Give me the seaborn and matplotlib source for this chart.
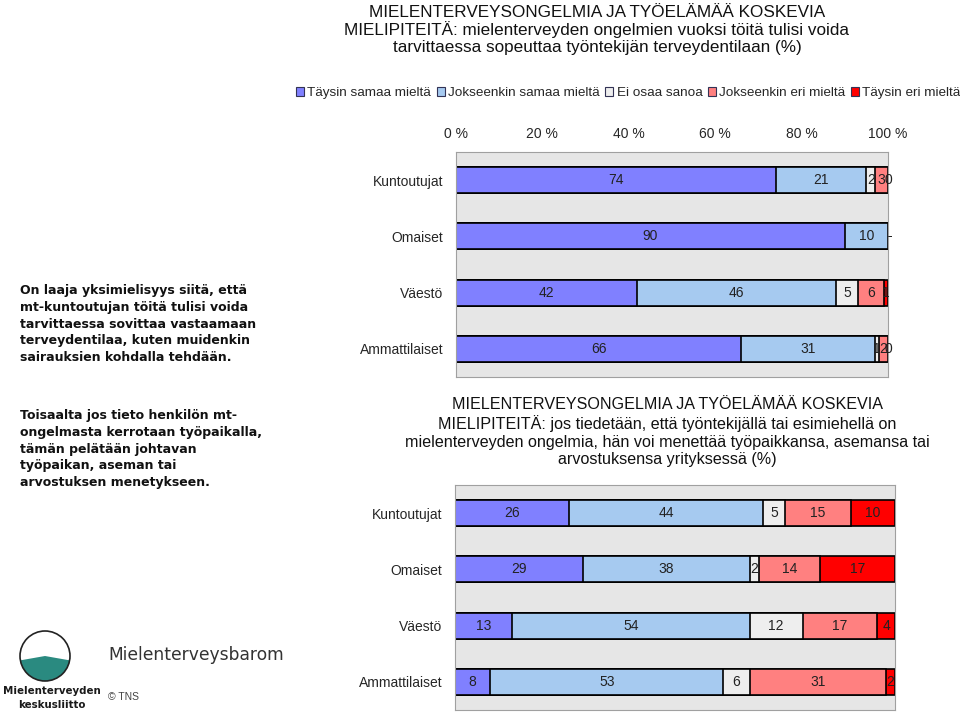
import numpy as np
import pandas as pd
import matplotlib.pyplot as plt
import seaborn as sns
from matplotlib.patches import Patch, Circle, Wedge

groups = ['Kuntoutujat', 'Omaiset', 'Väestö', 'Ammattilaiset']
answers = ['Täysin samaa mieltä', 'Jokseenkin samaa mieltä', 'Ei osaa sanoa',
           'Jokseenkin eri mieltä', 'Täysin eri mieltä']
colors = ['#8080ff', '#a6caf0', '#eeeeee', '#ff8080', '#ff0000']

# kuva 1: töiden sopeuttaminen terveydentilaan (%)
adapt_kuntoutujat = [74, 21, 2, 3, 0]
adapt_omaiset = [90, 10, np.nan, np.nan, np.nan]
adapt_vaesto = [42, 46, 5, 6, 1]
adapt_ammatti = [66, 31, 1, 2, 0]

# kuva 2: työpaikan / aseman menettäminen (%)
lose_kuntoutujat = [26, 44, 5, 15, 10]
lose_omaiset = [29, 38, 2, 14, 17]
lose_vaesto = [13, 54, 12, 17, 4]
lose_ammatti = [8, 53, 6, 31, 2]

title_top = ('MIELENTERVEYSONGELMIA JA TYÖELÄMÄÄ KOSKEVIA\n'
             'MIELIPITEITÄ: mielenterveyden ongelmien vuoksi töitä tulisi voida\n'
             'tarvittaessa sopeuttaa työntekijän terveydentilaan (%)')
title_bottom = ('MIELENTERVEYSONGELMIA JA TYÖELÄMÄÄ KOSKEVIA\n'
                'MIELIPITEITÄ: jos tiedetään, että työntekijällä tai esimiehellä on\n'
                'mielenterveyden ongelmia, hän voi menettää työpaikkansa, asemansa tai\n'
                'arvostuksensa yrityksessä (%)')
text_1 = ('On laaja yksimielisyys siitä, että\n'
          'mt-kuntoutujan töitä tulisi voida\n'
          'tarvittaessa sovittaa vastaamaan\n'
          'terveydentilaa, kuten muidenkin\n'
          'sairauksien kohdalla tehdään.')
text_2 = ('Toisaalta jos tieto henkilön mt-\n'
          'ongelmasta kerrotaan työpaikalla,\n'
          'tämän pelätään johtavan\n'
          'työpaikan, aseman tai\n'
          'arvostuksen menetykseen.')

sns.set_style('white')
plt.rcParams['font.family'] = ['Liberation Sans', 'DejaVu Sans']

W, H = 960, 713
fig = plt.figure(figsize=(W / 100, H / 100), dpi=100)


def px_axes(left, top, right, bottom):
    return fig.add_axes([left / W, 1 - bottom / H, (right - left) / W, (bottom - top) / H])


def stacked(ax, rows):
    df = pd.DataFrame(rows, index=groups, columns=answers)
    cum = df.fillna(0).cumsum(axis=1)
    # piirretään pisin kertymä ensin, lyhyemmät päälle
    for j in reversed(range(len(answers))):
        sns.barplot(x=cum.iloc[:, j].values, y=groups, color=colors[j], orient='h',
                    width=0.46, saturation=1, edgecolor='black', linewidth=1.2, ax=ax)
    for i, g in enumerate(groups):
        for j, a in enumerate(answers):
            v = df.loc[g, a]
            if np.isnan(v):
                ax.text(100.3, i, '-', ha='center', va='center', fontsize=10, color='#222222')
                continue
            ax.text(cum.loc[g, a] - v / 2, i, '%d' % v, ha='center', va='center',
                    fontsize=10, color='#222222')
    ax.set_facecolor('#e6e6e6')
    ax.set_xlim(0, 100)
    ax.set_ylim(3.5, -0.5)
    ax.set_xlabel('')
    ax.set_ylabel('')
    for s in ax.spines.values():
        s.set_color('#a0a0a0')
        s.set_linewidth(0.8)
    ax.tick_params(axis='y', length=0, pad=9, labelsize=10)


ax1 = px_axes(456, 152, 888, 377)
stacked(ax1, [adapt_kuntoutujat, adapt_omaiset, adapt_vaesto, adapt_ammatti])
ax1.xaxis.tick_top()
ax1.set_xticks(range(0, 101, 20))
ax1.set_xticklabels(['%d %%' % t for t in range(0, 101, 20)])
ax1.tick_params(axis='x', length=0, pad=7.7, labelsize=10)

ax2 = px_axes(455, 485, 895, 710)
stacked(ax2, [lose_kuntoutujat, lose_omaiset, lose_vaesto, lose_ammatti])
ax2.set_xticks([])

handles = [Patch(facecolor=c, edgecolor='#333355', linewidth=0.8) for c in colors]
fig.legend(handles, answers, loc='center left', bbox_to_anchor=(296 / W, 1 - 93 / H),
           ncol=5, frameon=False, fontsize=9.7, handlelength=0.6, handleheight=0.6,
           handletextpad=0.25, columnspacing=0.4, borderaxespad=0, borderpad=0)

fig.text(597 / W, 1 - 5 / H, title_top, ha='center', va='top', fontsize=12.3,
         linespacing=1.1, color='#111111')
fig.text(667 / W, 1 - 397 / H, title_bottom, ha='center', va='top', fontsize=11.6,
         linespacing=1.22, color='#111111')

fig.text(20 / W, 1 - 284 / H, text_1, ha='left', va='top', fontsize=9,
         fontweight='bold', family='DejaVu Sans', linespacing=1.38, color='#111111')
fig.text(20 / W, 1 - 409 / H, text_2, ha='left', va='top', fontsize=9,
         fontweight='bold', family='DejaVu Sans', linespacing=1.38, color='#111111')

# logo ja alatunniste
lg = fig.add_axes([0, 0, 283 / W, 100 / H])
lg.set_xlim(0, 283)
lg.set_ylim(0, 100)
lg.axis('off')
lg.add_patch(Wedge((45, 57), 25, 190, 350, facecolor='#2a8a80', edgecolor='none'))
lg.add_patch(Circle((45, 57), 25, facecolor='none', edgecolor='#222222', linewidth=1.2))
lg.text(52, 22, 'Mielenterveyden', ha='center', va='center', fontsize=7.4,
        fontweight='bold', family='DejaVu Sans', color='#1a1a1a')
lg.text(52, 8, 'keskusliitto', ha='center', va='center', fontsize=7.4,
        fontweight='bold', family='DejaVu Sans', color='#1a1a1a')
lg.text(108, 58, 'Mielenterveysbarometri', ha='left', va='center', fontsize=12.3,
        family='DejaVu Sans', color='#333333', clip_on=True)
lg.text(108, 16, '© TNS', ha='left', va='center', fontsize=7.5, color='#444444')

plt.savefig('out.png', dpi=100)
